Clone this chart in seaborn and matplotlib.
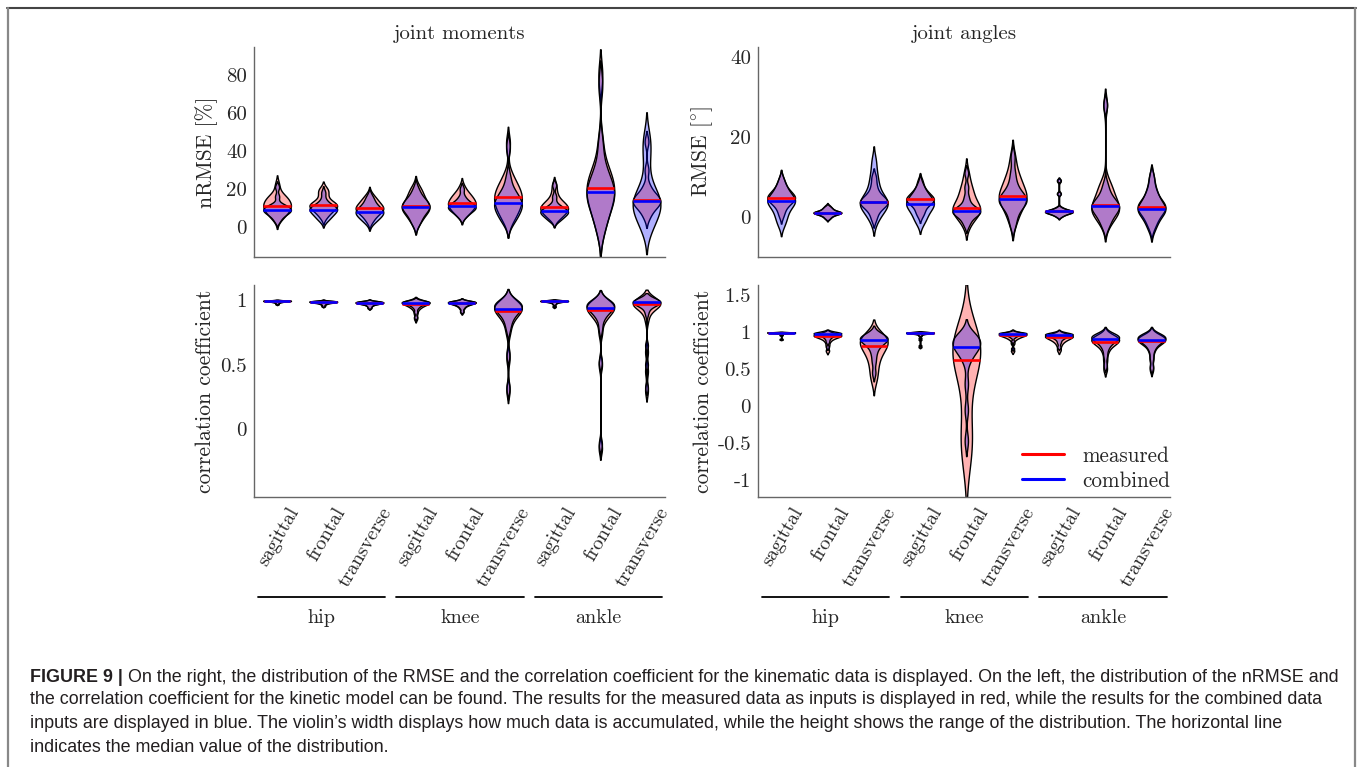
import numpy as np
import pandas as pd
import matplotlib
matplotlib.use("Agg")
import matplotlib.pyplot as plt
import matplotlib.transforms as mtransforms
from matplotlib.lines import Line2D
import seaborn as sns

# =============================================================================
# DATA  (per violin: samples, order = hip/knee/ankle x
#        sagittal/frontal/transverse)
# =============================================================================
joints = ["hip", "knee", "ankle"]
planes = ["sagittal", "frontal", "transverse"]

# joint moments, nRMSE [%]
moment_nrmse_measured = [
    [4, 6, 7, 8, 9, 10, 11, 11.1, 12, 13, 14, 15, 16, 17, 22],
    [5, 7, 8, 9, 10, 10.5, 11, 11.4, 12, 12.5, 13, 15, 17, 19, 20],
    [3, 5, 6.5, 7.5, 8, 9, 9.5, 9.8, 10.5, 11, 12, 13, 14, 15, 17],
    [2, 4, 6, 7.5, 8.5, 9.5, 10, 10.7, 11.5, 12.5, 14, 15.5, 17, 19, 21],
    [6, 7.5, 8.5, 9.5, 10.5, 11.5, 12, 12.3, 13, 14, 15, 16, 17, 18, 21],
    [3, 6, 8, 10, 11.5, 13, 14.5, 15.6, 17, 18.5, 20, 22, 24, 28, 44],
    [4, 5.5, 6.5, 7.5, 8.5, 9, 9.5, 10.2, 11, 11.5, 12.5, 13.5, 15, 18, 22],
    [-2, 4, 8, 11, 14, 16, 18, 20.4, 22, 24, 27, 30, 34, 45, 80],
    [5, 8, 10, 11, 12, 13, 13.5, 14.2, 15, 16, 17, 19, 22, 30, 45],
]
moment_nrmse_combined = [
    [3, 5, 6, 7, 7.5, 8, 8.5, 9, 9.5, 10, 10.5, 11, 12, 16, 21],
    [3, 4.5, 5.5, 6.5, 7, 8, 8.5, 9, 9.5, 10, 10.5, 11, 12, 14, 18],
    [2, 3.5, 4.5, 5.5, 6, 7, 7.5, 7.9, 8.5, 9, 10, 11, 12, 14, 16],
    [1, 3.5, 5.5, 7, 8, 9.5, 10, 10.6, 11, 12, 13, 14, 15, 17, 20],
    [5, 6.5, 7.5, 8.5, 9, 9.5, 10, 10.7, 11, 11.5, 12, 13, 14, 16, 20],
    [2, 4, 6, 7.5, 9, 10.5, 11.5, 12.3, 13, 14.5, 16, 18, 20, 26, 42],
    [3, 4, 5, 6, 6.5, 7, 7.5, 8.3, 8.5, 9, 9.5, 10.5, 12, 16, 22],
    [-3, 3, 7, 10, 13, 15, 17, 18.1, 20, 22, 25, 28, 33, 44, 75],
    [-2, 2, 5, 7, 9, 11, 12.5, 13.5, 15, 17, 20, 25, 35, 42, 48],
]

# joint angles, RMSE [deg]
angle_rmse_measured = [
    [0.5, 2, 3, 3.5, 4, 4.5, 4.7, 4.8, 5, 5.5, 6, 6.5, 7, 8, 9.5],
    [-0.3, 0.2, 0.5, 0.7, 0.9, 1.0, 1.05, 1.1, 1.2, 1.3, 1.5, 1.7, 2.0, 2.3, 2.8],
    [-0.5, 1, 2, 2.5, 3, 3.4, 3.6, 3.8, 4.1, 4.5, 5, 5.5, 6.5, 8, 10],
    [0.5, 1.5, 2.5, 3.2, 3.7, 4, 4.2, 4.4, 4.7, 5, 5.5, 6, 6.5, 7.5, 9],
    [-2, -0.5, 0.5, 1, 1.5, 1.9, 2.1, 2.3, 3, 4, 5, 6, 7, 8.5, 11],
    [-1.5, 0.5, 2, 3, 4, 4.5, 5, 5.2, 6, 7, 8, 9, 10, 12, 15],
    [0.2, 0.6, 0.8, 1.0, 1.1, 1.2, 1.3, 1.4, 1.5, 1.6, 1.8, 2.0, 2.4, 5.9, 9],
    [-2, -0.5, 0.5, 1, 1.5, 2, 2.5, 2.9, 3.5, 4.5, 5.5, 6.5, 7.5, 9, 28],
    [-2.5, -1, 0, 0.8, 1.5, 2, 2.3, 2.5, 3, 3.5, 4, 5, 6, 7.5, 10],
]
angle_rmse_combined = [
    [-2, -0.5, 0.5, 1.5, 2.5, 3, 3.5, 3.9, 4.2, 4.6, 5, 5.5, 6.5, 7.5, 9],
    [-0.4, 0.1, 0.4, 0.6, 0.8, 0.95, 1.0, 1.1, 1.15, 1.25, 1.4, 1.6, 1.9, 2.2, 2.6],
    [-1, 0.5, 1.5, 2.2, 2.8, 3.3, 3.6, 3.8, 4.2, 5, 6, 7.5, 9, 11, 14],
    [-1.5, -0.5, 0.5, 1.2, 2, 2.5, 2.9, 3.2, 3.5, 4, 4.5, 5, 5.5, 6.5, 8],
    [-2, -0.8, 0, 0.5, 0.9, 1.2, 1.4, 1.5, 1.7, 2, 2.5, 3.5, 5, 7.5, 11],
    [-2, 0, 1.5, 2.5, 3.2, 3.8, 4.1, 4.4, 4.7, 5.2, 6, 7, 8.5, 11, 15],
    [0.1, 0.5, 0.8, 0.9, 1.1, 1.2, 1.3, 1.4, 1.5, 1.6, 1.7, 1.9, 2.3, 5.8, 9.2],
    [-2.5, -1, 0, 0.8, 1.5, 2, 2.4, 2.7, 3, 3.5, 4, 5, 6, 8, 28],
    [-3, -1.5, -0.5, 0.5, 1.2, 1.7, 1.9, 2.1, 2.6, 3.2, 4, 5, 6, 7.5, 10],
]

# joint moments, correlation coefficient
moment_corr_measured = [
    [0.97, 0.98, 0.985, 0.99, 0.99, 0.992, 0.994, 0.995, 0.996, 0.997, 0.997, 0.998, 0.998, 0.999, 0.999],
    [0.955, 0.968, 0.975, 0.979, 0.982, 0.984, 0.986, 0.987, 0.988, 0.99, 0.991, 0.992, 0.993, 0.995, 0.997],
    [0.94, 0.955, 0.965, 0.97, 0.974, 0.977, 0.979, 0.98, 0.982, 0.984, 0.986, 0.988, 0.99, 0.992, 0.995],
    [0.86, 0.9, 0.93, 0.945, 0.955, 0.963, 0.97, 0.975, 0.978, 0.982, 0.985, 0.988, 0.99, 0.993, 0.996],
    [0.91, 0.935, 0.95, 0.96, 0.966, 0.972, 0.976, 0.979, 0.982, 0.984, 0.986, 0.988, 0.99, 0.993, 0.996],
    [0.3, 0.55, 0.75, 0.82, 0.86, 0.89, 0.905, 0.915, 0.93, 0.94, 0.95, 0.96, 0.97, 0.98, 0.99],
    [0.95, 0.97, 0.98, 0.985, 0.988, 0.991, 0.993, 0.994, 0.995, 0.996, 0.997, 0.998, 0.998, 0.999, 0.999],
    [-0.15, 0.5, 0.75, 0.84, 0.87, 0.89, 0.91, 0.922, 0.935, 0.945, 0.955, 0.965, 0.975, 0.985, 0.99],
    [0.3, 0.45, 0.6, 0.85, 0.92, 0.945, 0.96, 0.974, 0.978, 0.982, 0.985, 0.988, 0.99, 0.993, 0.996],
]
moment_corr_combined = [
    [0.975, 0.982, 0.987, 0.99, 0.991, 0.993, 0.994, 0.995, 0.996, 0.996, 0.997, 0.998, 0.998, 0.999, 0.999],
    [0.958, 0.97, 0.977, 0.981, 0.984, 0.986, 0.988, 0.989, 0.99, 0.991, 0.992, 0.993, 0.994, 0.996, 0.998],
    [0.945, 0.958, 0.967, 0.972, 0.975, 0.978, 0.98, 0.981, 0.983, 0.985, 0.987, 0.989, 0.991, 0.993, 0.996],
    [0.87, 0.91, 0.94, 0.955, 0.965, 0.972, 0.977, 0.98, 0.982, 0.985, 0.987, 0.989, 0.991, 0.994, 0.997],
    [0.915, 0.94, 0.955, 0.963, 0.969, 0.974, 0.978, 0.981, 0.983, 0.985, 0.987, 0.989, 0.991, 0.994, 0.997],
    [0.32, 0.58, 0.78, 0.84, 0.88, 0.905, 0.92, 0.935, 0.945, 0.955, 0.962, 0.97, 0.977, 0.985, 0.992],
    [0.955, 0.972, 0.981, 0.986, 0.989, 0.992, 0.993, 0.995, 0.996, 0.996, 0.997, 0.998, 0.998, 0.999, 0.999],
    [-0.12, 0.52, 0.78, 0.86, 0.89, 0.91, 0.93, 0.943, 0.952, 0.96, 0.967, 0.974, 0.98, 0.987, 0.993],
    [0.32, 0.5, 0.65, 0.9, 0.95, 0.97, 0.98, 0.987, 0.989, 0.99, 0.992, 0.993, 0.995, 0.997, 0.998],
]

# joint angles, correlation coefficient
angle_corr_measured = [
    [0.9, 0.96, 0.98, 0.988, 0.99, 0.992, 0.994, 0.995, 0.996, 0.997, 0.997, 0.998, 0.998, 0.999, 0.999],
    [0.75, 0.82, 0.87, 0.9, 0.92, 0.93, 0.94, 0.946, 0.952, 0.958, 0.963, 0.968, 0.972, 0.978, 0.985],
    [0.35, 0.45, 0.55, 0.63, 0.7, 0.75, 0.78, 0.81, 0.84, 0.87, 0.89, 0.91, 0.93, 0.95, 0.97],
    [0.8, 0.9, 0.95, 0.97, 0.98, 0.985, 0.988, 0.99, 0.992, 0.993, 0.994, 0.995, 0.996, 0.997, 0.998],
    [-0.7, -0.55, -0.42, -0.25, 0.2, 0.46, 0.56, 0.63, 0.7, 0.76, 0.82, 0.86, 0.9, 0.94, 0.97],
    [0.75, 0.85, 0.9, 0.92, 0.935, 0.945, 0.955, 0.96, 0.965, 0.97, 0.975, 0.98, 0.985, 0.99, 0.995],
    [0.76, 0.82, 0.86, 0.88, 0.9, 0.91, 0.92, 0.93, 0.94, 0.945, 0.95, 0.955, 0.96, 0.97, 0.98],
    [0.5, 0.62, 0.72, 0.78, 0.82, 0.845, 0.86, 0.87, 0.885, 0.9, 0.91, 0.92, 0.935, 0.95, 0.965],
    [0.5, 0.63, 0.73, 0.79, 0.83, 0.855, 0.87, 0.88, 0.89, 0.905, 0.915, 0.925, 0.94, 0.955, 0.97],
]
angle_corr_combined = [
    [0.91, 0.965, 0.982, 0.989, 0.991, 0.993, 0.995, 0.996, 0.997, 0.997, 0.998, 0.998, 0.999, 0.999, 0.999],
    [0.8, 0.87, 0.91, 0.935, 0.95, 0.96, 0.972, 0.98, 0.983, 0.986, 0.988, 0.99, 0.992, 0.994, 0.996],
    [0.45, 0.6, 0.7, 0.77, 0.82, 0.85, 0.87, 0.89, 0.9, 0.91, 0.92, 0.935, 0.95, 0.96, 0.975],
    [0.82, 0.92, 0.96, 0.975, 0.983, 0.988, 0.991, 0.993, 0.994, 0.995, 0.996, 0.997, 0.997, 0.998, 0.999],
    [-0.47, -0.05, 0.3, 0.6, 0.7, 0.75, 0.78, 0.8, 0.83, 0.86, 0.88, 0.9, 0.93, 0.95, 0.97],
    [0.78, 0.88, 0.93, 0.95, 0.96, 0.968, 0.975, 0.98, 0.983, 0.986, 0.988, 0.99, 0.992, 0.995, 0.997],
    [0.8, 0.86, 0.9, 0.92, 0.935, 0.945, 0.953, 0.96, 0.965, 0.97, 0.974, 0.978, 0.982, 0.986, 0.99],
    [0.55, 0.68, 0.77, 0.82, 0.855, 0.88, 0.895, 0.91, 0.92, 0.93, 0.94, 0.95, 0.96, 0.97, 0.98],
    [0.53, 0.66, 0.76, 0.81, 0.85, 0.87, 0.885, 0.9, 0.91, 0.92, 0.935, 0.945, 0.955, 0.965, 0.978],
]

caption_head = "FIGURE 9 |"
caption_lines = [
    "On the right, the distribution of the RMSE and the correlation coefficient for the kinematic data is displayed. On the left, the distribution of the nRMSE and",
    "the correlation coefficient for the kinetic model can be found. The results for the measured data as inputs is displayed in red, while the results for the combined data",
    "inputs are displayed in blue. The violin\u2019s width displays how much data is accumulated, while the height shows the range of the distribution. The horizontal line",
    "indicates the median value of the distribution.",
]

# =============================================================================
# STYLE
# =============================================================================
sns.set_style("white")
plt.rcParams["font.family"] = ["cmr10", "DejaVu Serif"]
plt.rcParams["mathtext.fontset"] = "cm"
plt.rcParams["axes.unicode_minus"] = False
plt.rcParams["axes.formatter.use_mathtext"] = True

W, H = 1358, 767
FS = 14.5
RED = (1.0, 0.0, 0.0)
BLUE = (0.0, 0.0, 1.0)
CAP_FONT = ["Liberation Sans", "DejaVu Sans"]


def px_rect(x0, y0, x1, y1):
    """pixel box (top-left origin) -> figure fraction rect"""
    return [x0 / W, 1 - y1 / H, (x1 - x0) / W, (y1 - y0) / H]


def robust_bw(kde):
    # Scott's rule, but spread taken as min(std, IQR/1.349) so that a few
    # outliers do not blow up the kernel width
    d = np.asarray(kde.dataset).ravel()
    sd = d.std(ddof=1)
    q75, q25 = np.percentile(d, [75, 25])
    spread = min(sd, (q75 - q25) / 1.349) if q75 > q25 else sd
    return spread / sd * d.size ** (-0.2)


def long_frame(samples, series):
    rows = [(i, series, v) for i, vals in enumerate(samples) for v in vals]
    return pd.DataFrame(rows, columns=["pos", "series", "value"])


def draw_panel(ax, measured, combined, yticks, yticklabels, ylim, ylabel,
               label_x):
    med_lines = []
    for samples, series, col, alpha in ((measured, "measured", RED, 0.30),
                                        (combined, "combined", BLUE, 0.31)):
        n0 = len(ax.collections)
        sns.violinplot(data=long_frame(samples, series), x="pos", y="value",
                       order=list(range(9)), ax=ax, color=col, saturation=1,
                       inner=None, density_norm="width", width=0.6, cut=2,
                       bw_method=robust_bw, linewidth=1.0, linecolor="black")
        polys = ax.collections[n0:]
        for i, (p, vals) in enumerate(zip(polys, samples)):
            p.set_facecolor((*col, alpha))
            p.set_edgecolor("black")
            # median line spans the violin width at the median
            med = np.median(vals)
            v = p.get_paths()[0].vertices
            right = v[v[:, 0] > i + 1e-9]
            o = np.argsort(right[:, 1])
            hw = np.interp(med, right[o, 1], right[o, 0]) - i
            med_lines.append((i - hw, i + hw, med, col))
    for x0, x1, m, col in med_lines:
        ax.plot([x0, x1], [m, m], color=col, lw=1.9, zorder=5,
                solid_capstyle="butt")

    ax.set_xlim(-0.5, 8.4)
    ax.set_ylim(*ylim)
    ax.set_yticks(yticks)
    ax.set_yticklabels(yticklabels, fontsize=15)
    ax.set_xticks(range(9))
    ax.set_xticklabels([])
    ax.set_xlabel("")
    ax.set_ylabel(ylabel, fontsize=15.5, va="center")
    ax.yaxis.set_label_coords(label_x, 0.5)
    ax.tick_params(length=0, pad=5)
    sns.despine(ax=ax)
    for s in ("left", "bottom"):
        ax.spines[s].set_color("#666666")
        ax.spines[s].set_linewidth(1.0)


def draw_xlabels(ax):
    fig = ax.figure
    trans = mtransforms.blended_transform_factory(ax.transData, ax.transAxes)
    off = mtransforms.ScaledTranslation(18 / 100, -12 / 100, fig.dpi_scale_trans)
    for i, name in enumerate(planes * 3):
        ax.text(i, 0, name, transform=trans + off, rotation=60, ha="right",
                va="center", rotation_mode="anchor", fontsize=FS)
    for g, joint in enumerate(joints):
        a, b = 3 * g - 0.42, 3 * g + 2 + 0.34
        ax.add_line(Line2D([a, b], [-0.472, -0.472], transform=trans,
                           color="black", lw=1.3, clip_on=False))
        ax.text((a + b) / 2, -0.571, joint, transform=trans, ha="center",
                va="center", fontsize=FS)


# =============================================================================
# FIGURE
# =============================================================================
fig = plt.figure(figsize=(W / 100, H / 100), dpi=100)

ax_tl = fig.add_axes(px_rect(254, 47, 665, 257))
ax_bl = fig.add_axes(px_rect(254, 285, 665, 497))
ax_tr = fig.add_axes(px_rect(758, 47, 1170, 257))
ax_br = fig.add_axes(px_rect(758, 285, 1170, 497))

draw_panel(ax_tl, moment_nrmse_measured, moment_nrmse_combined,
           [0, 20, 40, 60, 80], ["0", "20", "40", "60", "80"], (-16, 95),
           "nRMSE [%]", (207 - 254) / 411)
draw_panel(ax_tr, angle_rmse_measured, angle_rmse_combined,
           [0, 20, 40], ["0", "20", "40"], (-10, 42.5), r"RMSE [$^{\circ}$]",
           (702 - 758) / 412)
draw_panel(ax_bl, moment_corr_measured, moment_corr_combined,
           [0, 0.5, 1], ["0", "0.5", "1"], (-0.53, 1.12),
           "correlation coefficient", (205 - 254) / 411)
draw_panel(ax_br, angle_corr_measured, angle_corr_combined,
           [-1, -0.5, 0, 0.5, 1, 1.5], ["-1", "-0.5", "0", "0.5", "1", "1.5"],
           (-1.23, 1.64), "correlation coefficient", (703 - 758) / 412)

ax_tl.set_title("joint moments", fontsize=FS + 0.5, pad=6)
ax_tr.set_title("joint angles", fontsize=FS + 0.5, pad=6)

draw_xlabels(ax_bl)
draw_xlabels(ax_br)

handles = [Line2D([], [], color=RED, lw=2.2), Line2D([], [], color=BLUE, lw=2.2)]
ax_br.legend(handles, ["measured", "combined"], loc="lower right",
             bbox_to_anchor=(1.005, 0.02), frameon=False, fontsize=15.2,
             handlelength=2.0, handletextpad=0.85, labelspacing=0.25,
             borderaxespad=0.0, borderpad=0.1)

# ── frame around the figure panel ────────────────────────────────────────────
fig.add_artist(Line2D([7 / W, 1356 / W], [1 - 8 / H, 1 - 8 / H],
                      transform=fig.transFigure, color="#444444", lw=1.5))
for xp in (8, 1355):
    fig.add_artist(Line2D([xp / W, xp / W], [1 - 8 / H, 0],
                          transform=fig.transFigure, color="#888888", lw=1.6))

# ── caption ──────────────────────────────────────────────────────────────────
fig.canvas.draw()
r = fig.canvas.get_renderer()
x_left, x_right = 30, 1340
ys = [677, 700, 723, 747]
fs = 10.7
head = fig.text(x_left / W, 1 - ys[0] / H, caption_head, fontsize=fs,
                fontweight="bold", family=CAP_FONT, va="center", color="#231f20")
rest = fig.text(0.5, 1 - ys[0] / H, caption_lines[0], fontsize=fs,
                family=CAP_FONT, va="center", color="#231f20")
gap = 5
w_total = head.get_window_extent(r).width + gap + rest.get_window_extent(r).width
fs = fs * (x_right - x_left) / w_total
head.set_fontsize(fs)
rest.set_fontsize(fs)
rest.set_x((x_left + head.get_window_extent(r).width + gap) / W)
for line, y in zip(caption_lines[1:], ys[1:]):
    fig.text(x_left / W, 1 - y / H, line, fontsize=fs, family=CAP_FONT,
             va="center", color="#231f20")

fig.savefig("out.png", dpi=100)
